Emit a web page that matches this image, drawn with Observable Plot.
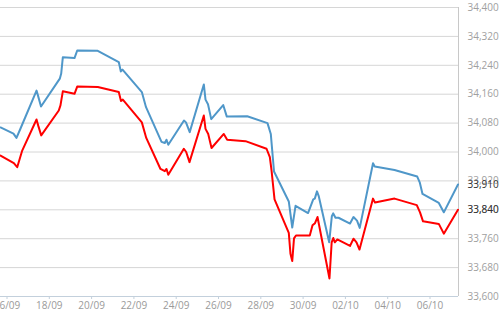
<!DOCTYPE html>
<html>
<head>
<meta charset="utf-8">
<script src="https://cdn.jsdelivr.net/npm/d3@7"></script>
<script src="https://cdn.jsdelivr.net/npm/@observablehq/plot@0.6"></script>
<style>
  html, body { margin: 0; padding: 0; background: #fff; }
  #chart { width: 500px; height: 312px; }
  svg { display: block; }
</style>
</head>
<body>
<div id="chart"></div>
<script>
const YEAR = 2015;

const blueTimes = [
  "09-15 16:40","09-16 07:20","09-16 10:45","09-16 15:20","09-17 09:30","09-17 11:10","09-17 14:35",
  "09-18 11:55","09-18 13:30","09-18 15:20","09-19 04:35","09-19 07:40","09-20 07:00","09-21 06:50",
  "09-21 09:10","09-21 11:05","09-22 09:00","09-22 13:45","09-23 07:20","09-23 11:05","09-23 13:00",
  "09-23 15:00","09-24 08:50","09-24 11:05","09-24 15:20","09-25 07:20","09-25 09:15","09-25 12:05",
  "09-25 15:45","09-26 05:20","09-26 09:25","09-27 08:35","09-28 07:35","09-28 11:20","09-28 15:00",
  "09-29 07:45","09-29 11:40","09-29 15:25","09-30 05:35","09-30 11:30","09-30 13:15","09-30 15:45",
  "09-30 17:50","10-01 05:35","10-01 08:35","10-01 10:10","10-01 12:45","10-01 16:10","10-02 05:15",
  "10-02 09:10","10-02 13:10","10-02 16:15","10-03 07:20","10-03 09:15","10-04 07:45","10-05 09:30",
  "10-05 12:20","10-05 15:30","10-06 10:00","10-06 15:40","10-07 07:45"
];
const blueValues = [
  34068,34051,34039,34065,34170,34156,34126,
  34203,34217,34262,34260,34281,34280,34249,
  34223,34228,34166,34124,34028,34025,34034,
  34020,34087,34082,34055,34187,34145,34132,
  34091,34130,34098,34099,34080,34050,33946,
  33863,33791,33851,33831,33869,33871,33891,
  33877,33750,33822,33830,33818,33818,33802,
  33820,33810,33790,33969,33960,33950,33932,
  33916,33884,33859,33833,33910
];

const redTimes = [
  "09-15 16:40","09-16 07:45","09-16 11:35","09-16 17:15","09-17 09:30","09-17 11:25","09-17 14:50",
  "09-18 10:45","09-18 12:40","09-18 15:20","09-19 04:35","09-19 07:40","09-20 07:00","09-21 06:50",
  "09-21 09:20","09-21 11:25","09-22 09:00","09-22 14:00","09-23 06:10","09-23 11:05","09-23 13:00",
  "09-23 15:00","09-24 08:40","09-24 11:20","09-24 15:05","09-25 07:20","09-25 09:15","09-25 12:20",
  "09-25 16:05","09-26 06:00","09-26 09:50","09-27 06:40","09-28 06:30","09-28 10:15","09-28 12:10",
  "09-28 15:35","09-29 07:45","09-29 09:40","09-29 11:40","09-29 13:40","09-29 15:55","09-30 07:35",
  "09-30 10:40","09-30 13:30","09-30 16:20","10-01 05:55","10-01 08:25","10-01 10:15","10-01 12:00",
  "10-01 14:50","10-02 05:15","10-02 09:10","10-02 12:35","10-02 16:00","10-03 07:20","10-03 09:35",
  "10-04 07:45","10-05 09:00","10-05 12:40","10-05 16:05","10-06 10:00","10-06 15:40","10-07 07:45"
];
const redValues = [
  33990,33969,33958,34004,34090,34073,34046,
  34115,34129,34168,34161,34181,34180,34166,
  34141,34145,34082,34039,33953,33947,33953,
  33937,34009,34000,33972,34101,34064,34050,
  34011,34050,34034,34030,34009,33986,33949,
  33869,33776,33718,33698,33761,33769,33769,
  33797,33803,33820,33650,33750,33762,33750,
  33758,33740,33760,33750,33730,33871,33860,
  33871,33853,33833,33808,33801,33774,33840
];

const xTickLabels = ["16/09","18/09","20/09","22/09","24/09","26/09","28/09","30/09","02/10","04/10","06/10"];
const yTicks = [33600,33680,33760,33840,33920,34000,34080,34160,34240,34320,34400];
const xDomainStrings = ["09-15 16:37","10-07 08:20"];

const parseT = s => new Date(`${YEAR}-${s.replace(" ", "T")}:00Z`);
const parseLabel = s => { const [d, m] = s.split("/"); return new Date(Date.UTC(YEAR, +m - 1, +d)); };

const blue = blueTimes.map((t, i) => ({t: parseT(t), v: blueValues[i]}));
const red = redTimes.map((t, i) => ({t: parseT(t), v: redValues[i]}));
const xDomain = xDomainStrings.map(parseT);
const xTicks = xTickLabels.map(parseLabel);
const lastValues = [blueValues[blueValues.length - 1], redValues[redValues.length - 1]];

const FONT = "'Open Sans', sans-serif";
const fmt = d3.format(",");

const chart = Plot.plot({
  width: 500,
  height: 312,
  marginLeft: 0,
  marginRight: 42,
  marginTop: 7,
  marginBottom: 16,
  style: { fontFamily: FONT, fontSize: "10px", background: "#fff", overflow: "visible" },
  x: { type: "utc", domain: xDomain },
  y: { domain: [33600, 34400] },
  marks: [
    Plot.gridY(yTicks, { stroke: "#d6d6d6", strokeOpacity: 1, strokeWidth: 1 }),
    Plot.ruleY([33600], { stroke: "#c3d0dc", strokeWidth: 1 }),
    Plot.ruleX([xDomain[1]], { stroke: "#c8c8c8", strokeWidth: 1 }),
    Plot.axisX(xTicks, {
      tickFormat: d3.utcFormat("%d/%m"),
      tickSize: 3,
      tickPadding: 2,
      stroke: "#c3d0dc",
      fill: "#9a9a9a",
      fontSize: 10,
      label: null
    }),
    Plot.axisY(yTicks, {
      anchor: "right",
      tickSize: 0,
      tickPadding: 9,
      tickFormat: fmt,
      fill: "#a0a0a0",
      fontSize: 10,
      label: null
    }),
    Plot.line(blue, { x: "t", y: "v", stroke: "#4f97c9", strokeWidth: 2, curve: "linear" }),
    Plot.line(red, { x: "t", y: "v", stroke: "#ff0000", strokeWidth: 2, curve: "linear" }),
    Plot.text(lastValues, {
      x: () => xDomain[1],
      y: d => d,
      text: d => fmt(d),
      dx: 9,
      textAnchor: "start",
      fill: "#333",
      fontSize: 10
    })
  ]
});

document.getElementById("chart").appendChild(chart);
</script>
</body>
</html>
